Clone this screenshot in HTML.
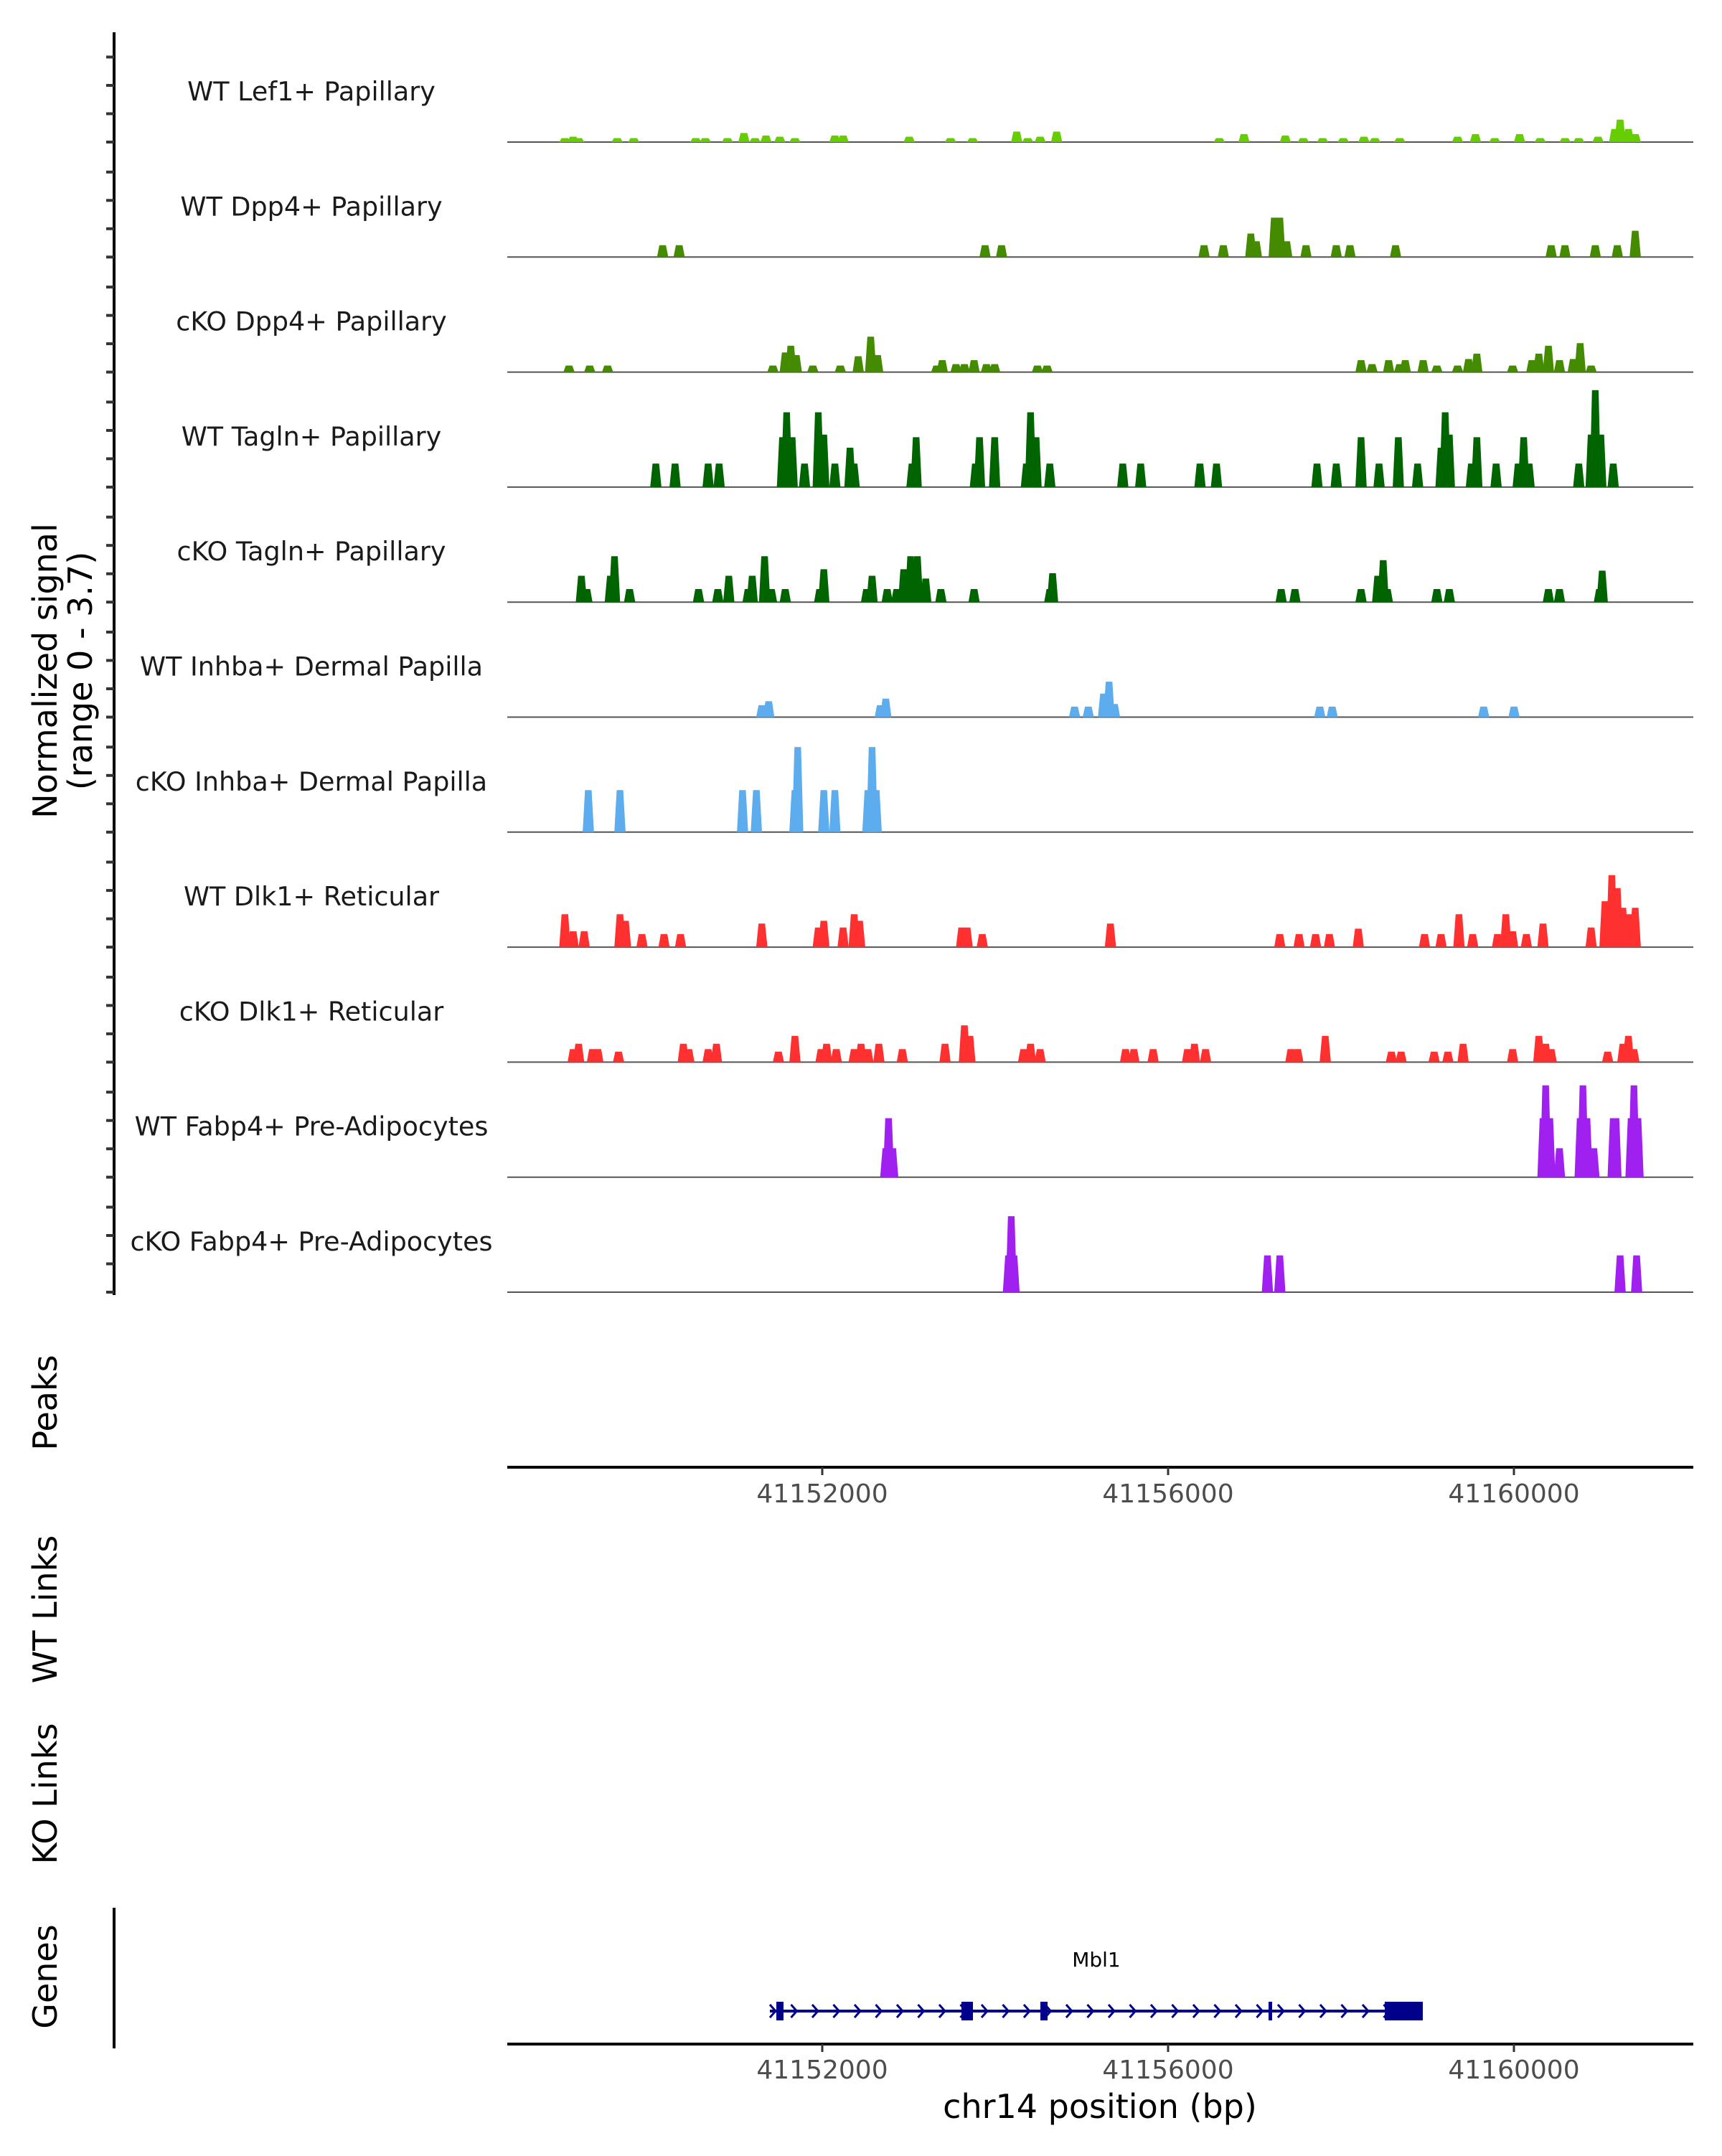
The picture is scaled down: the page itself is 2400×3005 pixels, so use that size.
<!DOCTYPE html>
<html><head><meta charset="utf-8"><style>
html,body{margin:0;padding:0;background:#fff;}
svg text{font-family:"DejaVu Sans","Liberation Sans",sans-serif;}
</style></head><body>
<svg id="chart" width="2400" height="3000" viewBox="0 0 2400 3000" xmlns="http://www.w3.org/2000/svg">
<rect width="2400" height="3000" fill="#fff"/>
<g id="tracks"></g>
<line x1="159" y1="45" x2="159" y2="1805" stroke="#000" stroke-width="4"/>
<g id="yticks"></g>
<text transform="translate(79,935) rotate(-90)" text-anchor="middle" font-size="46">Normalized signal</text>
<text transform="translate(128,935) rotate(-90)" text-anchor="middle" font-size="46">(range 0 - 3.7)</text>
<text transform="translate(79,1955) rotate(-90)" text-anchor="middle" font-size="46">Peaks</text>
<text transform="translate(79,2243) rotate(-90)" text-anchor="middle" font-size="46">WT Links</text>
<text transform="translate(79,2500) rotate(-90)" text-anchor="middle" font-size="46">KO Links</text>
<text transform="translate(79,2755) rotate(-90)" text-anchor="middle" font-size="46">Genes</text>
<line x1="159" y1="2659" x2="159" y2="2855" stroke="#000" stroke-width="4"/>
<g id="peaksaxis"></g>
<g id="gene"></g>
<g id="bottomaxis"></g>
<text x="1533" y="2952" text-anchor="middle" font-size="46">chr14 position (bp)</text>
</svg>
<script>
const trackNames = ["WT Lef1+ Papillary","WT Dpp4+ Papillary","cKO Dpp4+ Papillary","WT Tagln+ Papillary","cKO Tagln+ Papillary","WT Inhba+ Dermal Papilla","cKO Inhba+ Dermal Papilla","WT Dlk1+ Reticular","cKO Dlk1+ Reticular","WT Fabp4+ Pre-Adipocytes","cKO Fabp4+ Pre-Adipocytes"];
const trackColors = ["#66CD00","#458B00","#458B00","#006400","#006400","#5CACEE","#5CACEE","#FF3030","#FF3030","#A020F0","#A020F0"];
const tickValues = [41152000,41156000,41160000];
const t1Pos=[41149023,41149119,41149182,41149628,41149820,41150537,41150648,41150903,41151094,41151222,41151349,41151509,41151684,41152146,41152242,41153006,41153484,41153739,41154249,41154377,41154520,41154711,41156592,41156878,41157356,41157564,41157787,41158026,41158265,41158392,41158679,41159348,41159555,41159778,41160065,41160304,41160591,41160750,41160973,41161165,41161228,41161324,41161404];
const t1Val=[0.14,0.19,0.14,0.14,0.14,0.14,0.14,0.14,0.32,0.14,0.23,0.19,0.14,0.23,0.23,0.19,0.14,0.14,0.37,0.14,0.19,0.37,0.14,0.28,0.23,0.14,0.14,0.14,0.19,0.14,0.14,0.19,0.28,0.14,0.28,0.14,0.14,0.14,0.19,0.46,0.79,0.46,0.28];
const t2Pos=[41150154,41150345,41153883,41154074,41156416,41156639,41156957,41157021,41157228,41157292,41157372,41157595,41157945,41158104,41158631,41160431,41160590,41160941,41161196,41161403];
const t2Val=[0.42,0.42,0.42,0.42,0.42,0.42,0.83,0.56,1.39,1.39,0.56,0.42,0.42,0.42,0.42,0.42,0.42,0.42,0.42,0.93];
const t3Pos=[41149071,41149310,41149517,41151429,41151572,41151636,41151700,41151891,41152209,41152416,41152560,41152640,41153324,41153388,41153547,41153644,41153756,41153899,41153994,41154489,41154600,41158232,41158359,41158551,41158679,41158743,41158950,41159109,41159348,41159475,41159571,41159985,41160208,41160288,41160399,41160527,41160686,41160766,41160893];
const t3Val=[0.23,0.23,0.23,0.23,0.69,0.93,0.6,0.23,0.23,0.56,1.25,0.6,0.23,0.42,0.28,0.28,0.42,0.28,0.28,0.23,0.23,0.42,0.28,0.42,0.28,0.42,0.42,0.23,0.23,0.46,0.65,0.23,0.42,0.65,0.93,0.42,0.46,1.02,0.23];
const t4Pos=[41150075,41150298,41150680,41150807,41151540,41151588,41151652,41151795,41151954,41152018,41152146,41152321,41152369,41153038,41153086,41153771,41153819,41153994,41154361,41154409,41154473,41154632,41155476,41155683,41156369,41156560,41157722,41157945,41158232,41158440,41158663,41158886,41159157,41159205,41159253,41159508,41159571,41159794,41160049,41160113,41160176,41160750,41160893,41160941,41161005,41161148];
const t4Val=[0.83,0.83,0.83,0.83,1.76,2.64,1.76,0.83,2.64,1.85,0.83,1.39,0.83,0.83,1.76,0.83,1.76,1.76,0.83,2.64,1.76,0.83,0.83,0.83,0.83,0.83,0.83,0.83,1.76,0.83,1.76,0.83,1.39,2.64,1.85,0.83,1.76,0.83,0.83,1.76,0.83,0.83,1.85,3.42,1.85,0.83];
const t5Pos=[41149214,41149278,41149549,41149597,41149772,41150569,41150792,41150919,41151142,41151190,41151333,41151413,41151572,41151970,41152018,41152512,41152576,41152751,41152862,41152942,41153022,41153101,41153197,41153372,41153756,41154632,41154664,41157308,41157467,41158232,41158424,41158488,41158536,41159109,41159253,41160399,41160527,41160989,41161021];
const t5Val=[0.93,0.46,0.93,1.62,0.46,0.46,0.46,0.93,0.46,0.93,1.62,0.46,0.46,0.46,1.16,0.46,0.93,0.46,0.46,1.16,1.62,1.62,0.83,0.46,0.46,0.46,1.02,0.46,0.46,0.46,0.93,1.48,0.46,0.46,0.46,0.46,0.46,0.46,1.11];
const t6Pos=[41151301,41151381,41152671,41152735,41154918,41155077,41155253,41155317,41155380,41157755,41157898,41159650,41160001];
const t6Val=[0.42,0.56,0.42,0.65,0.37,0.37,0.83,1.25,0.46,0.37,0.37,0.37,0.37];
const t7Pos=[41149294,41149660,41151078,41151238,41151684,41151716,41152018,41152146,41152528,41152576,41152624];
const t7Val=[1.48,1.48,1.48,1.48,1.48,3.0,1.48,1.48,1.48,3.0,1.48];
const t8Pos=[41149023,41149119,41149246,41149660,41149724,41149915,41150170,41150361,41151301,41151954,41152018,41152241,41152369,41152432,41153612,41153676,41153851,41155333,41157292,41157515,41157706,41157866,41158200,41158966,41159157,41159364,41159523,41159810,41159906,41159985,41160144,41160336,41160893,41161053,41161132,41161196,41161260,41161324,41161403];
const t8Val=[1.16,0.56,0.56,1.16,0.93,0.46,0.46,0.46,0.83,0.69,0.93,0.69,1.16,0.93,0.69,0.69,0.46,0.83,0.46,0.46,0.46,0.46,0.65,0.46,0.46,1.16,0.46,0.46,1.16,0.56,0.46,0.83,0.69,1.62,2.54,2.08,1.39,1.16,1.39];
const t9Pos=[41149119,41149182,41149342,41149405,41149644,41150393,41150457,41150680,41150776,41151493,41151684,41151986,41152050,41152162,41152369,41152448,41152528,41152655,41152926,41153420,41153644,41153708,41154329,41154409,41154520,41155508,41155604,41155827,41156225,41156305,41156433,41157420,41157500,41157818,41158583,41158695,41159077,41159236,41159412,41159985,41160288,41160367,41160431,41161084,41161260,41161324,41161388];
const t9Val=[0.46,0.65,0.46,0.46,0.37,0.65,0.46,0.46,0.65,0.37,0.93,0.46,0.65,0.46,0.46,0.65,0.46,0.65,0.46,0.65,1.3,0.93,0.46,0.65,0.46,0.46,0.46,0.46,0.46,0.65,0.46,0.46,0.46,0.93,0.37,0.37,0.37,0.37,0.65,0.46,0.93,0.65,0.46,0.37,0.65,0.93,0.46];
const t10Pos=[41152735,41152767,41152815,41160336,41160367,41160415,41160527,41160766,41160798,41160845,41160925,41161148,41161180,41161355,41161388,41161435];
const t10Val=[1.02,2.08,1.02,2.08,3.24,2.08,1.02,2.08,3.24,2.08,1.02,2.08,2.08,2.08,3.24,2.08];
const t11Pos=[41154154,41154186,41154218,41157149,41157292,41161228,41161419];
const t11Val=[1.3,2.68,1.3,1.3,1.3,1.3,1.3];
const exonStarts=[41151469,41153610,41154523,41157162,41158506];
const exonEnds=[41151552,41153743,41154606,41157203,41158946];
const geneStart=41151394, geneEnd=41158946, geneName="Mbl1";

const allPos=[t1Pos,t2Pos,t3Pos,t4Pos,t5Pos,t6Pos,t7Pos,t8Pos,t9Pos,t10Pos,t11Pos];
const allVal=[t1Val,t2Val,t3Val,t4Val,t5Val,t6Val,t7Val,t8Val,t9Val,t10Val,t11Val];
const NS="http://www.w3.org/2000/svg";
function xs(bp){return 1146+(bp-41152000)*0.1205;}
function ys(v){return v*39.5;}
function mk(tag,attrs,parent){const e=document.createElementNS(NS,tag);for(const k in attrs)e.setAttribute(k,attrs[k]);parent.appendChild(e);return e;}
const tracksG=document.getElementById('tracks');
const ytG=document.getElementById('yticks');
for(let i=0;i<trackNames.length;i++){
  const B=198+i*160.3;
  const g=mk('g',{},tracksG);
  
  
  const lab=mk('text',{x:434,y:B-58,'text-anchor':'middle','font-size':36.5,fill:'#1a1a1a'},g);
  lab.textContent=trackNames[i];
  
  
  const base=mk('line',{x1:707,x2:2360,y1:B,y2:B,stroke:'#555','stroke-width':2},g);
  
  
  const P=allPos[i],V=allVal[i];
  for(let j=0;j<P.length;j++){
    const h=ys(V[j]);
    const pts=[[xs(P[j]-65),B],[xs(P[j]-38),B-h],[xs(P[j]+38),B-h],[xs(P[j]+65),B]].map(p=>p[0].toFixed(1)+','+p[1].toFixed(1)).join(' ');
    const pk=mk('polygon',{points:pts,fill:trackColors[i]},g);
    
    
  }
  for(let k=0;k<4;k++){
    const t=mk('line',{x1:148,x2:159,y1:B-k*39.5,y2:B-k*39.5,stroke:'#333','stroke-width':4},ytG);
    
    
  }
}
function drawAxis(gid,y,labY){
  const g=document.getElementById(gid);
  mk('line',{x1:707,x2:2360,y1:y,y2:y,stroke:'#000','stroke-width':4},g);
  tickValues.forEach(v=>{
    const t=mk('line',{x1:xs(v),x2:xs(v),y1:y,y2:y+11,stroke:'#333','stroke-width':3},g);
    
    
    const l=mk('text',{x:xs(v),y:labY,'text-anchor':'middle','font-size':36,fill:'#4d4d4d'},g);
    l.textContent=v;
    
    
  });
}
drawAxis('peaksaxis',2045,2094);
drawAxis('bottomaxis',2849,2897);
const gg=document.getElementById('gene');
const gy=2803;
mk('line',{x1:xs(geneStart),x2:xs(geneEnd),y1:gy,y2:gy,stroke:'#00008B','stroke-width':4},gg);
for(let x=xs(geneStart)+4;x<xs(geneEnd)-10;x+=29.5){
  const c=mk('polyline',{points:(x-4)+','+(gy-9)+' '+(x+4)+','+gy+' '+(x-4)+','+(gy+9),fill:'none',stroke:'#00008B','stroke-width':3},gg);
  
  
}
for(let i=0;i<exonStarts.length;i++){
  const r=mk('rect',{x:xs(exonStarts[i]),y:gy-13,width:Math.max(4,xs(exonEnds[i])-xs(exonStarts[i])),height:26,fill:'#00008B'},gg);
  
  
}
const gl=mk('text',{x:(xs(geneStart)+xs(geneEnd))/2,y:2741,'text-anchor':'middle','font-size':28,fill:'#000'},gg);
gl.textContent=geneName;


</script>
</body></html>
